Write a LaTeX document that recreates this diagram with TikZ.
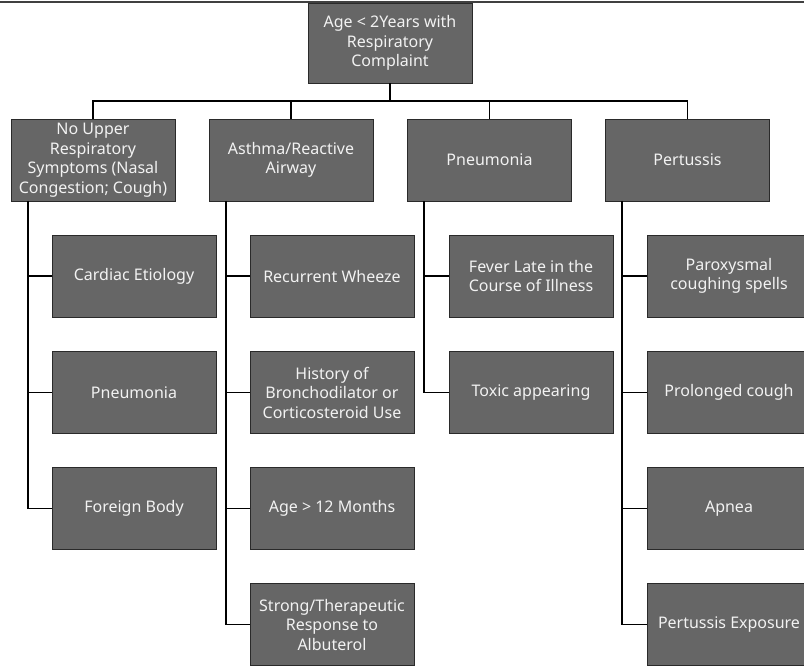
\documentclass[tikz,border=0pt]{standalone}
\usepackage{fontspec}
\setmainfont{Noto Sans}
\definecolor{boxgray}{HTML}{666666}
\definecolor{boxtext}{HTML}{F2F2F2}
\definecolor{edgegray}{HTML}{2A2A2A}
\begin{document}
\begin{tikzpicture}[x=1pt,y=-1pt,
  box/.style={draw=edgegray, line width=0.9pt, fill=boxgray, text=boxtext,
    minimum width=164pt, minimum height=82pt, inner sep=0pt, align=center,
    font=\fontsize{16}{19.5}\selectfont},
  conn/.style={draw=black, line width=1.4pt}]
\useasboundingbox (0,0) rectangle (804,666);
\draw[line width=2pt, color=black!75] (0,2) -- (804,2);

% root
\node[box, minimum height=80pt] (root) at (390,43) {Age < 2Years with\\Respiratory\\Complaint};

% level 1
\node[box] (A) at (93,160) {No Upper\\Respiratory\\Symptoms (Nasal\\Congestion; Cough)};
\node[box] (B) at (291,160) {Asthma/Reactive\\Airway};
\node[box] (C) at (489.5,160) {Pneumonia};
\node[box] (D) at (687.5,160) {Pertussis};

% level 2
\node[box] (A1) at (134,276) {Cardiac Etiology};
\node[box] (A2) at (134,392.5) {Pneumonia};
\node[box] (A3) at (134,508.5) {Foreign Body};

\node[box] (B1) at (332,276) {Recurrent Wheeze};
\node[box] (B2) at (332,392.5) {History of\\Bronchodilator or\\Corticosteroid Use};
\node[box] (B3) at (332,508.5) {Age > 12 Months};
\node[box] (B4) at (332,624.5) {Strong/Therapeutic\\Response to\\Albuterol};

\node[box] (C1) at (531,276) {Fever Late in the\\Course of Illness};
\node[box] (C2) at (531,392.5) {Toxic appearing};

\node[box] (D1) at (729,276) {Paroxysmal\\coughing spells};
\node[box] (D2) at (729,392.5) {Prolonged cough};
\node[box] (D3) at (729,508.5) {Apnea};
\node[box] (D4) at (729,624.5) {Pertussis Exposure};

% bus
\coordinate (bus) at (390,101);
\draw[conn] (root.south) -- (bus);
\draw[conn] (bus) -| (A.north);
\draw[conn] (bus) -| (B.north);
\draw[conn] (bus) -| (C.north);
\draw[conn] (bus) -| (D.north);

% column spines
\coordinate (va) at (28,201);
\coordinate (vb) at (226,201);
\coordinate (vc) at (424,201);
\coordinate (vd) at (622,201);

\draw[conn] (va) |- (A3.west);
\draw[conn] (A1.west) -- (A1.west -| va);
\draw[conn] (A2.west) -- (A2.west -| va);

\draw[conn] (vb) |- (B4.west);
\draw[conn] (B1.west) -- (B1.west -| vb);
\draw[conn] (B2.west) -- (B2.west -| vb);
\draw[conn] (B3.west) -- (B3.west -| vb);

\draw[conn] (vc) |- (C2.west);
\draw[conn] (C1.west) -- (C1.west -| vc);

\draw[conn] (vd) |- (D4.west);
\draw[conn] (D1.west) -- (D1.west -| vd);
\draw[conn] (D2.west) -- (D2.west -| vd);
\draw[conn] (D3.west) -- (D3.west -| vd);
\end{tikzpicture}
\end{document}
